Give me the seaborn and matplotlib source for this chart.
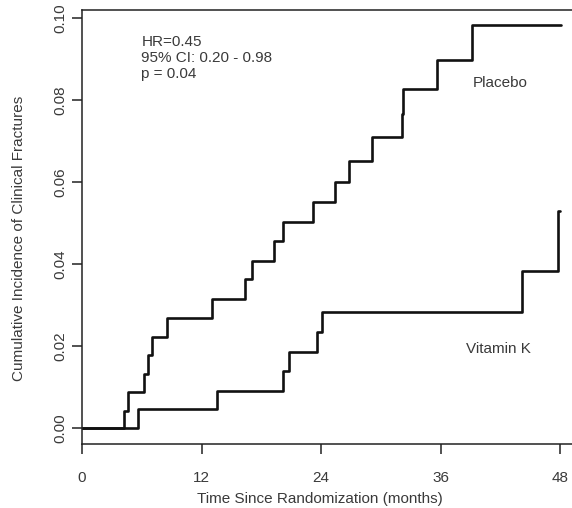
import matplotlib
matplotlib.use("Agg")
import matplotlib.pyplot as plt
import seaborn as sns
import pandas as pd

# Data
placebo_t = [0, 4.2, 4.6, 6.2, 6.6, 7.0, 8.5, 13.1, 16.4, 17.1, 19.3, 20.2, 23.2,
             25.4, 26.8, 29.1, 32.1, 32.2, 35.6, 39.2, 48.1]
placebo_v = [0, 0.0041, 0.0087, 0.0133, 0.0178, 0.0223, 0.0268, 0.0315, 0.0363,
             0.0408, 0.0456, 0.0502, 0.0551, 0.0601, 0.0651, 0.0709, 0.0766,
             0.0827, 0.0899, 0.0983, 0.0983]
vitk_t = [0, 5.6, 13.6, 20.2, 20.8, 23.6, 24.1, 44.2, 47.8, 48.0]
vitk_v = [0, 0.0046, 0.0091, 0.0139, 0.0185, 0.0234, 0.0284, 0.0383, 0.053, 0.053]
groups = ["Placebo", "Vitamin K"]
x_ticks = [0, 12, 24, 36, 48]
y_ticks = [0.00, 0.02, 0.04, 0.06, 0.08, 0.10]
stats_text = ["HR=0.45", "95% CI: 0.20 - 0.98", "p = 0.04"]

df = pd.concat([
    pd.DataFrame({"t": placebo_t, "v": placebo_v, "g": groups[0]}),
    pd.DataFrame({"t": vitk_t, "v": vitk_v, "g": groups[1]}),
], ignore_index=True)

sns.set_theme(style="ticks")
plt.rcParams["font.family"] = ["Liberation Sans", "DejaVu Sans"]

FS = 11
TXT = "#3a3a3a"

fig = plt.figure(figsize=(5.72, 5.08), dpi=100)
ax = fig.add_axes([82 / 572, 64 / 508, 490 / 572, 434 / 508])

sns.lineplot(data=df, x="t", y="v", hue="g", palette=["#111111", "#111111"],
             estimator=None, sort=False, drawstyle="steps-post",
             linewidth=1.9, legend=False, ax=ax)

ax.set_xlim(0, 49.2)
ax.set_ylim(-0.0039, 0.1020)
ax.set_xticks(x_ticks)
ax.set_xticklabels([str(t) for t in x_ticks])
ax.set_yticks(y_ticks)
ax.set_yticklabels([f"{v:.2f}" for v in y_ticks], rotation=90, va="center")

for s in ["left", "bottom", "top"]:
    ax.spines[s].set_linewidth(1.1)
    ax.spines[s].set_color("#222222")
ax.spines["right"].set_visible(False)

ax.tick_params(axis="both", length=7.2, width=1.1, color="#222222",
               labelsize=FS, labelcolor=TXT)
ax.tick_params(axis="x", pad=12.5)
ax.tick_params(axis="y", pad=3)

ax.set_xlabel("Time Since Randomization (months)", fontsize=FS, color=TXT)
ax.set_ylabel("Cumulative Incidence of Clinical Fractures", fontsize=FS, color=TXT)
ax.xaxis.set_label_coords(0.486, -0.111)
ax.yaxis.set_label_coords(-0.114, 0.473)

for i, txt in enumerate(stats_text):
    ax.text(5.95, 0.0942 - i * 0.0039, txt, fontsize=FS, color=TXT,
            va="center", ha="left")
ax.text(39.2, 0.0842, groups[0], fontsize=FS, color=TXT, va="center", ha="left")
ax.text(38.6, 0.0193, groups[1], fontsize=FS, color=TXT, va="center", ha="left")

fig.savefig("out.png", dpi=100)
